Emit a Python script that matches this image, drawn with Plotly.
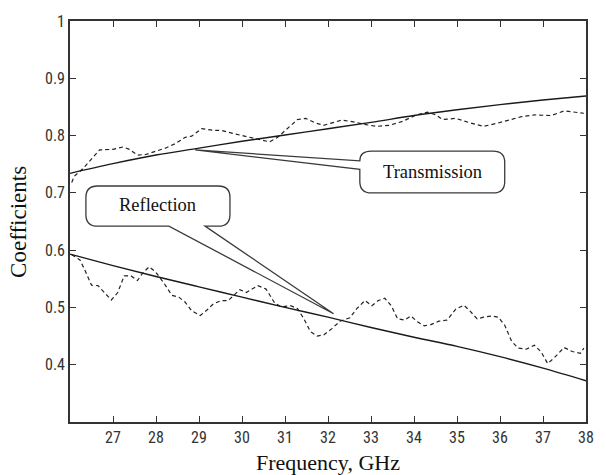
import plotly.graph_objects as go

# ---------------- data ----------------
trans_fit_f = [26, 27, 28, 29, 30, 31, 32, 33, 34, 35, 36, 37, 38]
trans_fit_v = [0.734, 0.751, 0.766, 0.778, 0.790, 0.801, 0.812, 0.823, 0.835, 0.845, 0.854, 0.862, 0.869]

trans_meas_f = [26.04, 26.10, 26.31, 26.54, 26.69, 27.00, 27.23, 27.38, 27.57, 27.76, 27.99, 28.22,
                28.45, 28.68, 28.83, 29.06, 29.37, 29.52, 29.83, 30.06, 30.44, 30.64, 30.83, 31.06,
                31.29, 31.48, 31.71, 31.90, 32.13, 32.32, 32.59, 32.82, 33.13, 33.43, 33.74, 34.05,
                34.31, 34.51, 34.66, 34.97, 35.27, 35.62, 35.96, 36.27, 36.50, 36.80, 37.19, 37.49,
                37.72, 37.95]
trans_meas_v = [0.718, 0.729, 0.743, 0.763, 0.775, 0.776, 0.780, 0.776, 0.766, 0.767, 0.772, 0.778,
                0.786, 0.797, 0.799, 0.812, 0.809, 0.809, 0.803, 0.799, 0.792, 0.789, 0.797, 0.812,
                0.828, 0.830, 0.822, 0.818, 0.823, 0.827, 0.824, 0.820, 0.816, 0.818, 0.825, 0.836,
                0.841, 0.836, 0.828, 0.830, 0.823, 0.816, 0.822, 0.829, 0.833, 0.836, 0.835, 0.843,
                0.841, 0.839]

refl_fit_f = [26, 27, 28, 29, 30, 31, 32, 33, 34, 35, 36, 37, 38]
refl_fit_v = [0.593, 0.573, 0.554, 0.536, 0.518, 0.500, 0.483, 0.465, 0.448, 0.432, 0.414, 0.394, 0.372]

refl_meas_f = [26.04, 26.23, 26.34, 26.50, 26.65, 26.80, 26.96, 27.11, 27.26, 27.42, 27.57, 27.69,
               27.84, 27.99, 28.18, 28.37, 28.53, 28.68, 28.83, 29.03, 29.18, 29.33, 29.52, 29.68,
               29.83, 29.95, 30.10, 30.25, 30.37, 30.56, 30.75, 30.90, 31.13, 31.29, 31.44, 31.59,
               31.75, 31.90, 32.09, 32.28, 32.51, 32.67, 32.86, 33.02, 33.17, 33.32, 33.47, 33.62,
               33.78, 33.93, 34.08, 34.24, 34.39, 34.58, 34.77, 34.97, 35.16, 35.31, 35.47, 35.62,
               35.81, 35.96, 36.11, 36.27, 36.42, 36.61, 36.80, 36.95, 37.11, 37.26, 37.49, 37.68,
               37.87, 37.95]
refl_meas_v = [0.592, 0.583, 0.566, 0.539, 0.538, 0.526, 0.513, 0.526, 0.555, 0.555, 0.547, 0.560,
               0.571, 0.562, 0.543, 0.521, 0.518, 0.509, 0.494, 0.486, 0.495, 0.506, 0.512, 0.512,
               0.523, 0.531, 0.526, 0.533, 0.538, 0.532, 0.509, 0.501, 0.503, 0.498, 0.480, 0.458,
               0.450, 0.452, 0.463, 0.476, 0.482, 0.498, 0.512, 0.503, 0.512, 0.516, 0.503, 0.480,
               0.478, 0.485, 0.475, 0.468, 0.470, 0.476, 0.478, 0.497, 0.504, 0.493, 0.480, 0.483,
               0.485, 0.483, 0.469, 0.441, 0.429, 0.427, 0.434, 0.423, 0.402, 0.412, 0.430, 0.423,
               0.420, 0.429]

x_ticks = [27, 28, 29, 30, 31, 32, 33, 34, 35, 36, 37, 38]
y_ticks = [0.4, 0.5, 0.6, 0.7, 0.8, 0.9, 1.0]
y_tick_text = ["0.4", "0.5", "0.6", "0.7", "0.8", "0.9", "1"]

x_title = "Frequency, GHz"
y_title = "Coefficients"

# callouts (data coordinates)
trans_label = "Transmission"
trans_box = dict(x0=32.74, x1=36.11, y0=0.700, y1=0.773)
trans_tip = (28.91, 0.775)
trans_base = (0.756, 0.741)          # y of the two wedge roots on the left edge

refl_label = "Reflection"
refl_box = dict(x0=26.37, x1=29.72, y0=0.642, y1=0.712)
refl_tip = (32.13, 0.489)
refl_base = (28.30, 29.14)           # x of the two wedge roots on the bottom edge

RX, RY = 0.27, 0.020                 # corner rounding in data units

# ---------------- figure ----------------
fig = go.Figure()
solid = dict(color="#1a1a1a", width=1.4)
dashed = dict(color="#222", width=1.2, dash="4px,3px")

fig.add_trace(go.Scatter(x=trans_meas_f, y=trans_meas_v, mode="lines", line=dashed, showlegend=False))
fig.add_trace(go.Scatter(x=trans_fit_f, y=trans_fit_v, mode="lines", line=solid, line_shape="spline", showlegend=False))
fig.add_trace(go.Scatter(x=refl_meas_f, y=refl_meas_v, mode="lines", line=dashed, showlegend=False))
fig.add_trace(go.Scatter(x=refl_fit_f, y=refl_fit_v, mode="lines", line=solid, line_shape="spline", showlegend=False))


def p(x, y):
    return f"{x},{y}"


def callout_left(b, tip, base):
    x0, x1, y0, y1 = b["x0"], b["x1"], b["y0"], b["y1"]
    ya, yb = base
    return (f"M {p(x0+RX, y1)} L {p(x1-RX, y1)} Q {p(x1, y1)} {p(x1, y1-RY)} "
            f"L {p(x1, y0+RY)} Q {p(x1, y0)} {p(x1-RX, y0)} L {p(x0+RX, y0)} "
            f"Q {p(x0, y0)} {p(x0, y0+RY)} L {p(x0, yb)} L {p(*tip)} L {p(x0, ya)} "
            f"Q {p(x0, y1)} {p(x0+RX, y1)} Z")


def callout_bottom(b, tip, base):
    x0, x1, y0, y1 = b["x0"], b["x1"], b["y0"], b["y1"]
    xa, xb = base
    return (f"M {p(x0+RX, y1)} L {p(x1-RX, y1)} Q {p(x1, y1)} {p(x1, y1-RY)} "
            f"L {p(x1, y0+RY)} Q {p(x1, y0)} {p(x1-RX, y0)} L {p(xb, y0)} L {p(*tip)} "
            f"L {p(xa, y0)} L {p(x0+RX, y0)} Q {p(x0, y0)} {p(x0, y0+RY)} "
            f"L {p(x0, y1-RY)} Q {p(x0, y1)} {p(x0+RX, y1)} Z")


shape_line = dict(color="#3a3a3a", width=1.3)
fig.add_shape(type="path", path=callout_left(trans_box, trans_tip, trans_base), xref="x", yref="y",
              line=shape_line, fillcolor="white", layer="above")
fig.add_shape(type="path", path=callout_bottom(refl_box, refl_tip, refl_base), xref="x", yref="y",
              line=shape_line, fillcolor="white", layer="above")

serif = "Liberation Serif, Times New Roman, serif"
fig.add_annotation(x=(trans_box["x0"] + trans_box["x1"]) / 2, y=(trans_box["y0"] + trans_box["y1"]) / 2,
                   text=trans_label, showarrow=False, font=dict(family=serif, size=18.5, color="#111"))
fig.add_annotation(x=(refl_box["x0"] + refl_box["x1"]) / 2, y=(refl_box["y0"] + refl_box["y1"]) / 2 + 0.002,
                   text=refl_label, showarrow=False, font=dict(family=serif, size=18.5, color="#111"))

# axis titles
fig.add_annotation(xref="paper", yref="paper", x=0.5, y=-0.100, yanchor="middle", xanchor="center",
                   text=x_title, showarrow=False, font=dict(family=serif, size=22, color="#111"))
fig.add_annotation(xref="paper", yref="paper", x=-0.100, y=0.5, yanchor="middle", xanchor="center",
                   textangle=-90, text=y_title, showarrow=False,
                   font=dict(family=serif, size=23, color="#111"))

tickfont = dict(family="Liberation Sans Narrow, Arial Narrow, Roboto Condensed, Liberation Sans, sans-serif",
                size=16, color="#333")
axis_common = dict(showline=True, linecolor="#333", linewidth=1.6, mirror="ticks", ticks="inside",
                   ticklen=6, tickwidth=1.3, tickcolor="#333", showgrid=False, zeroline=False,
                   tickfont=tickfont)

fig.update_xaxes(range=[26, 38], tickvals=x_ticks, **axis_common)
fig.update_yaxes(range=[0.3, 1.0], tickvals=y_ticks, ticktext=y_tick_text, **axis_common)

fig.update_layout(width=606, height=475, autosize=False,
                  margin=dict(l=70, r=14, t=13, b=53),
                  plot_bgcolor="white", paper_bgcolor="white")

fig.write_html("out.html")
